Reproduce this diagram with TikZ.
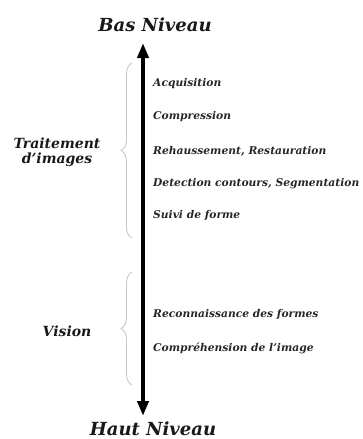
\documentclass[tikz,border=0pt]{standalone}
\usepackage{fontspec}
\setmainfont{DejaVu Serif}
\usetikzlibrary{arrows.meta,decorations.pathreplacing}
\begin{document}
\begin{tikzpicture}[x=1pt,y=-1pt,
  title/.style={font=\fontsize{18}{21}\selectfont\bfseries\itshape, text=black!90, inner sep=0pt, anchor=base},
  group/.style={font=\fontsize{14}{16}\selectfont\bfseries\itshape, text=black!90, inner sep=0pt, align=center},
  item/.style={font=\fontsize{10.7}{12}\selectfont\bfseries\itshape, text=black!85, inner sep=0pt, anchor=west},
  bracestyle/.style={draw=black!22, line width=0.9pt, decorate, decoration={brace, amplitude=11pt, aspect=0.5}},
  axis/.style={line width=3.8pt, {Triangle[width=11pt,length=15pt]}-{Triangle[width=11pt,length=15pt]}}
]
\useasboundingbox (0,0) rectangle (362,439);
\node[title] (bas) at (155,31) {Bas Niveau};
\node[title] (haut) at (153,435.5) {Haut Niveau};
\coordinate (top) at (143,43);
\coordinate (bot) at (143,416);
\draw[axis] (top) -- (bot);

\node[item] (i1) at (153,84) {Acquisition};
\node[item] (i2) at (153,117) {Compression};
\node[item] (i3) at (153,151) {Rehaussement, Restauration};
\node[item] (i4) at (153,184) {Detection contours, Segmentation};
\node[item] (i5) at (153,215) {Suivi de forme};
\node[item] (i6) at (153,314) {Reconnaissance des formes};
\node[item] (i7) at (153,348) {Compréhension de l'image};

\coordinate (b1t) at (132,63);
\coordinate (b1b) at (132,238);
\coordinate (b2t) at (132,272);
\coordinate (b2b) at (132,385);
\draw[bracestyle] (b1b) -- (b1t);
\draw[bracestyle] (b2b) -- (b2t);

\node[group] (trait) at (57,152) {Traitement\\[-1pt]d'images};
\node[group] (vision) at (67,331) {Vision};
\end{tikzpicture}
\end{document}
